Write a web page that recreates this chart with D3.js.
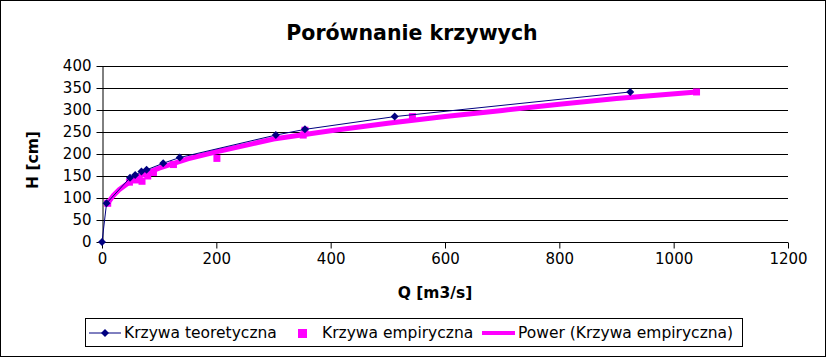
<!DOCTYPE html>
<html><head><meta charset="utf-8">
<script src="https://cdn.jsdelivr.net/npm/d3@7"></script>
<style>
html,body{margin:0;padding:0;background:#fff;}
svg{display:block;}
text{font-family:"DejaVu Sans",sans-serif;}
</style></head>
<body>
<svg id="chart" width="826" height="357"></svg>
<script>
// Data
const title = "Porównanie krzywych";
const xTitle = "Q [m3/s]";
const yTitle = "H [cm]";
const xTicks = [0, 200, 400, 600, 800, 1000, 1200];
const yTicks = [0, 50, 100, 150, 200, 250, 300, 350, 400];
const theoQ = [0, 8, 49, 58, 69, 78, 107, 136, 304, 355, 512, 924];
const theoH = [0, 88, 146, 152, 160, 164, 179, 192, 243, 256, 285, 341];
const empQ = [10, 48, 60, 70, 80, 90, 125, 201, 352, 355, 543, 1040];
const empH = [88, 136, 141, 138, 150, 158, 176, 190, 243, 254, 285, 341];
const powQ = [10, 20, 30, 50, 75, 100, 150, 200, 300, 400, 500, 600, 700, 800, 900, 1040];
const powH = [88, 106, 119, 138, 155, 168, 189, 205, 234, 253, 270, 285, 299, 313, 326, 341];
const legendLabels = ["Krzywa teoretyczna", "Krzywa empiryczna", "Power (Krzywa empiryczna)"];

const svg = d3.select("#chart");
const W = 826, H = 357;
svg.append("rect").attr("x",0.5).attr("y",0.5).attr("width",W-1).attr("height",H-1)
  .attr("fill","#fff").attr("stroke","#000").attr("stroke-width",1);

const x = d3.scaleLinear().domain([0,1200]).range([102,788]);
const y = d3.scaleLinear().domain([0,400]).range([242,66]);

// gridlines
svg.append("g").selectAll("line").data(yTicks.filter(d=>d>0)).join("line")
  .attr("x1",x(0)).attr("x2",x(1200))
  .attr("y1",d=>Math.round(y(d))+0.5).attr("y2",d=>Math.round(y(d))+0.5)
  .attr("stroke","#000").attr("stroke-width",1);

// axes
const xAxis = d3.axisBottom(x).tickValues(xTicks).tickFormat(d3.format("d")).tickSize(6).tickPadding(5).tickSizeOuter(0);
const gx = svg.append("g").attr("transform",`translate(0,${Math.round(y(0))+0.5})`).call(xAxis);
const yAxis = d3.axisLeft(y).tickValues(yTicks).tickFormat(d3.format("d")).tickSize(6).tickPadding(5).tickSizeOuter(0);
const gy = svg.append("g").attr("transform",`translate(${Math.round(x(0))+0.5},0)`).call(yAxis);
[gx,gy].forEach(g=>{
  g.attr("font-family","DejaVu Sans").attr("font-size",15);
  g.selectAll("path").attr("stroke","#000");
  g.selectAll("line").attr("stroke","#000");
  g.selectAll("text").attr("fill","#000");
});
gx.select("path.domain").attr("d",`M${x(0)},0H${x(1200)}`);

// power trendline
const line = d3.line().x(d=>x(d[0])).y(d=>y(d[1]));
svg.append("path").datum(powQ.map((q,i)=>[q,powH[i]]))
  .attr("d",line).attr("fill","none").attr("stroke","#FF00FF").attr("stroke-width",5);

// empirical squares
svg.append("g").selectAll("rect").data(empQ.map((q,i)=>[q,empH[i]])).join("rect")
  .attr("x",d=>x(d[0])-3.5).attr("y",d=>y(d[1])-3.5).attr("width",7).attr("height",7)
  .attr("fill","#FF00FF");

// theoretical line
svg.append("path").datum(theoQ.map((q,i)=>[q,theoH[i]]))
  .attr("d",line).attr("fill","none").attr("stroke","#000080").attr("stroke-width",1);
svg.append("g").selectAll("path").data(theoQ.map((q,i)=>[q,theoH[i]])).join("path")
  .attr("d","M0,-4L4,0L0,4L-4,0Z")
  .attr("transform",d=>`translate(${x(d[0])},${y(d[1])})`).attr("fill","#000080");

// titles
svg.append("text").attr("x",412).attr("y",40).attr("text-anchor","middle")
  .attr("font-weight","bold").attr("font-size",20.5).text(title);
svg.append("text").attr("x",435).attr("y",298).attr("text-anchor","middle")
  .attr("font-weight","bold").attr("font-size",15.5).text(xTitle);
svg.append("text").attr("transform","translate(38,160) rotate(-90)").attr("text-anchor","middle")
  .attr("font-weight","bold").attr("font-size",15.5).text(yTitle);

// legend
const lg = svg.append("g");
lg.append("rect").attr("x",85.5).attr("y",318.5).attr("width",657).attr("height",28)
  .attr("fill","#fff").attr("stroke","#000");
// item 1
lg.append("line").attr("x1",89).attr("x2",121).attr("y1",333).attr("y2",333).attr("stroke","#000080");
lg.append("path").attr("d","M0,-4L4,0L0,4L-4,0Z").attr("transform","translate(105,333)").attr("fill","#000080");
lg.append("text").attr("x",124).attr("y",338).attr("font-size",15.5).text(legendLabels[0]);
// item 2
lg.append("rect").attr("x",298).attr("y",329).attr("width",9).attr("height",9).attr("fill","#FF00FF");
lg.append("text").attr("x",322).attr("y",338).attr("font-size",15.5).text(legendLabels[1]);
// item 3
lg.append("line").attr("x1",482).attr("x2",515).attr("y1",333).attr("y2",333).attr("stroke","#FF00FF").attr("stroke-width",4);
lg.append("text").attr("x",518).attr("y",338).attr("font-size",15.5).text(legendLabels[2]);
</script>
</body></html>
